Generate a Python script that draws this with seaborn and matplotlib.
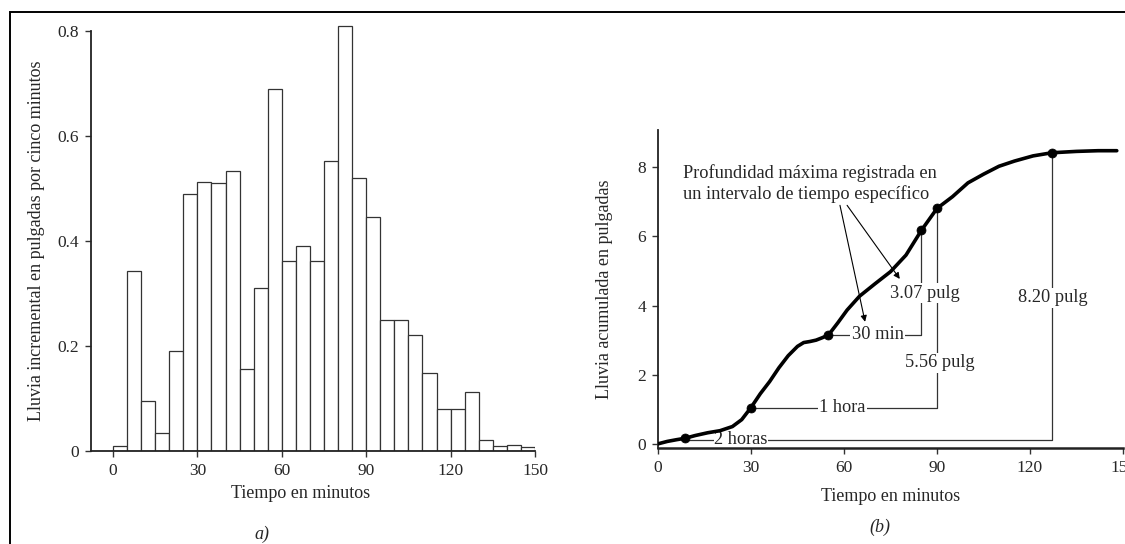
import numpy as np
import pandas as pd
import seaborn as sns
import matplotlib.pyplot as plt
from matplotlib.patches import Rectangle

sns.set_theme(style="ticks")
plt.rcParams['font.family'] = ['Liberation Serif', 'DejaVu Serif']

# === Data ===
# (a) incremental rainfall per 5-minute interval, inches
bin_start = list(range(0, 150, 5))
incremental = [0.01, 0.343, 0.096, 0.035, 0.19, 0.49,
               0.512, 0.51, 0.534, 0.156, 0.31, 0.69,
               0.362, 0.39, 0.362, 0.553, 0.81, 0.52,
               0.445, 0.25, 0.25, 0.22, 0.148, 0.08,
               0.08, 0.112, 0.02, 0.009, 0.012, 0.008]

# (b) cumulative rainfall curve, inches
curve_t = [0, 3, 6, 8.7, 12, 16, 20, 24, 27, 30, 33, 36, 39, 42, 45, 47, 49,
           51, 53, 55, 58, 61, 65, 70, 75, 80, 85, 90, 95, 100, 105, 110, 115,
           121, 127, 135, 142, 148]
curve_p = [0, 0.07, 0.12, 0.16, 0.24, 0.32, 0.38, 0.5, 0.7, 1.05, 1.45, 1.8,
           2.2, 2.55, 2.82, 2.93, 2.96, 3.0, 3.07, 3.15, 3.5, 3.87, 4.27, 4.63,
           4.98, 5.46, 6.18, 6.81, 7.15, 7.55, 7.8, 8.03, 8.18, 8.33, 8.42,
           8.46, 8.48, 8.48]

# marked points: start/end of max 2 h, 1 h and 30 min windows
dot_t = [8.7, 30, 55, 85, 90, 127]
dot_p = [0.16, 1.05, 3.15, 6.18, 6.81, 8.42]

time_ticks = [0, 30, 60, 90, 120, 150]
hist_yticks = [0, 0.2, 0.4, 0.6, 0.8]
hist_ylabels = ["0", "0.2", "0.4", "0.6", "0.8"]
cum_yticks = [0, 2, 4, 6, 8]

fs_tick = 12.5
fs_label = 13
fs_ann = 13.2

fig = plt.figure(figsize=(11.25, 5.44), dpi=100)
ax1 = fig.add_axes([0.0809, 0.171, 0.3947, 0.7914])
ax2 = fig.add_axes([0.5849, 0.1765, 0.4133, 0.5846])

# === (a) histogram ===
hist_df = pd.DataFrame({"t": np.array(bin_start) + 2.5, "p": incremental})
sns.histplot(data=hist_df, x="t", weights="p", binwidth=5, binrange=(0, 150),
             ax=ax1, color="white", edgecolor="#333333", linewidth=0.9,
             alpha=1)
ax1.set_xlim(-7.8, 150)
ax1.set_ylim(0, 0.82)
ax1.spines["left"].set_bounds(0, 0.8)
ax1.set_xticks(time_ticks)
ax1.set_xticklabels([str(t) for t in time_ticks])
ax1.set_yticks(hist_yticks)
ax1.set_yticklabels(hist_ylabels)
ax1.set_xlabel("Tiempo en minutos", fontsize=fs_label)
ax1.set_ylabel("Lluvia incremental en pulgadas por cinco minutos", fontsize=fs_label)
ax1.xaxis.set_label_coords(0.473, -0.08)
ax1.yaxis.set_label_coords(-0.104, 0.488)

# === (b) cumulative curve ===
sns.lineplot(x=curve_t, y=curve_p, ax=ax2, color="black", linewidth=2.6,
             sort=False, zorder=4)
sns.scatterplot(x=dot_t, y=dot_p, ax=ax2, color="black", s=42,
                edgecolor="black", zorder=5)
ax2.set_xlim(0, 150)
ax2.set_ylim(-0.12, 9.08)
ax2.set_xticks(time_ticks)
ax2.set_xticklabels([str(t) for t in time_ticks])
ax2.set_yticks(cum_yticks)
ax2.set_xlabel("Tiempo en minutos", fontsize=fs_label)
ax2.set_ylabel("Lluvia acumulada en pulgadas", fontsize=fs_label)
ax2.xaxis.set_label_coords(0.5, -0.125)
ax2.yaxis.set_label_coords(-0.097, 0.5)

for ax in (ax1, ax2):
    sns.despine(ax=ax)
    ax.tick_params(labelsize=fs_tick, direction="out", length=4, width=1,
                   color="#333333", pad=4.5)
    for side in ("left", "bottom"):
        ax.spines[side].set_color("#222222")
        ax.spines[side].set_linewidth(1.3)
        ax.spines[side].set_zorder(3.5)
ax2.spines["bottom"].set_linewidth(1.8)

# leader lines for the three windows
lc = "#333333"
box = dict(facecolor="white", edgecolor="none", pad=1.0)
ax2.plot([dot_t[2], dot_t[3], dot_t[3]], [dot_p[2], dot_p[2], dot_p[3]],
         color=lc, lw=0.9, zorder=2)
ax2.plot([dot_t[1], dot_t[4], dot_t[4]], [dot_p[1], dot_p[1], dot_p[4]],
         color=lc, lw=0.9, zorder=2)
ax2.plot([dot_t[0], dot_t[5], dot_t[5]], [0.11, 0.11, dot_p[5]],
         color=lc, lw=0.9, zorder=2)

ax2.text(70.8, dot_p[2], "30 min", fontsize=fs_ann, ha="center", va="center",
         bbox=box, zorder=3)
ax2.text(86.1, 4.36, "3.07 pulg", fontsize=fs_ann, ha="center", va="center",
         bbox=box, zorder=3)
ax2.text(59.5, dot_p[1], "1 hora", fontsize=fs_ann, ha="center", va="center",
         bbox=box, zorder=3)
ax2.text(91.0, 2.34, "5.56 pulg", fontsize=fs_ann, ha="center", va="center",
         bbox=box, zorder=3)
ax2.text(26.8, 0.13, "2 horas", fontsize=fs_ann, ha="center", va="center",
         bbox=dict(facecolor="white", edgecolor="none", pad=0.3), zorder=3)
ax2.text(127.4, 4.22, "8.20 pulg", fontsize=fs_ann, ha="center", va="center",
         bbox=box, zorder=3)

ax2.text(8.0, 7.83, "Profundidad máxima registrada en", fontsize=fs_ann,
         ha="left", va="center", zorder=3)
ax2.text(8.0, 7.22, "un intervalo de tiempo específico", fontsize=fs_ann,
         ha="left", va="center", zorder=3)
arrow = dict(arrowstyle="-|>", lw=0.8, color="black", shrinkA=0, shrinkB=0,
             mutation_scale=9)
ax2.annotate("", xy=(66.8, 3.53), xytext=(58.7, 6.9), arrowprops=arrow,
             zorder=6)
ax2.annotate("", xy=(78.0, 4.77), xytext=(61.0, 6.9), arrowprops=arrow,
             zorder=6)

# panel captions and frame
fig.text(0.233, 0.017, "a)", fontsize=fs_label, style="italic",
         ha="center", va="center")
fig.text(0.782, 0.03, "(b)", fontsize=fs_label, style="italic",
         ha="center", va="center")
fig.patches.append(Rectangle((10 / 1125, -0.1), 1.2, 1.1 - 12 / 544,
                             transform=fig.transFigure, fill=False,
                             edgecolor="black", linewidth=1.4))

plt.savefig("out.png", dpi=100)
plt.close()
